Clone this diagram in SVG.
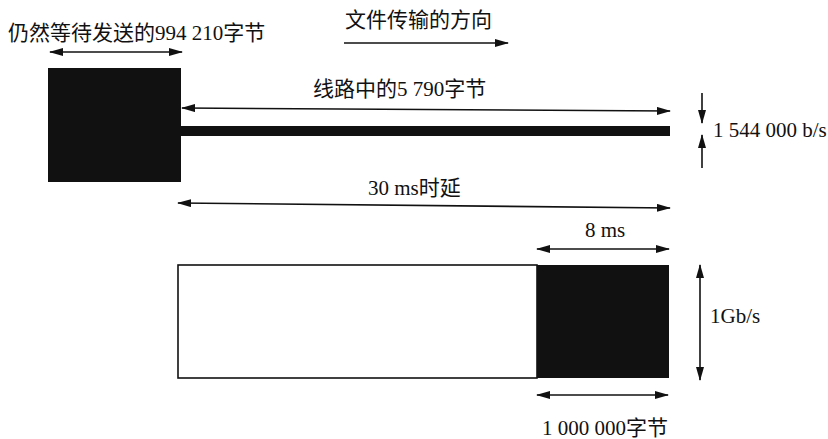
<svg xmlns="http://www.w3.org/2000/svg" width="828" height="439" viewBox="0 0 828 439">
<style>
text{font-family:"Liberation Serif","Noto Sans CJK SC",serif;font-size:21px;fill:#111}
.ln{stroke:#111;stroke-width:1.6;fill:none}
.blk{fill:#111}
</style>
<defs>
<marker id="ah" viewBox="0 0 14 8" refX="13" refY="4" markerUnits="userSpaceOnUse" markerWidth="14" markerHeight="8" orient="auto-start-reverse">
<path d="M0,0 L14,4 L0,8 Z" fill="#111"/>
</marker>
</defs>
<rect width="828" height="439" fill="#fff"/>
<g id="waiting">
<rect class="blk" x="48" y="68" width="133" height="114"/>
<text x="8" y="40">仍然等待发送的994 210字节</text>
</g>
<g id="direction">
<text x="345" y="27">文件传输的方向</text>
</g>
<g id="line">
<rect class="blk" x="181" y="126" width="489" height="10"/>
<text x="313" y="96">线路中的5 790字节</text>
<text x="713" y="137">1 544 000 b/s</text>
</g>
<g id="delay">
<text x="368" y="195">30 ms时延</text>
<text x="585" y="237">8 ms</text>
</g>
<g id="gigabit">
<rect x="178" y="265" width="359" height="113" fill="#fff" stroke="#111" stroke-width="1.6"/>
<rect class="blk" x="537" y="265" width="132" height="113"/>
<text x="710" y="323">1Gb/s</text>
<text x="542" y="435">1 000 000字节</text>
</g>
<g id="connectors">
<line class="ln" x1="50" y1="52" x2="182" y2="52" marker-start="url(#ah)" marker-end="url(#ah)"/>
<line class="ln" x1="344" y1="43" x2="508" y2="43" marker-end="url(#ah)"/>
<line class="ln" x1="182" y1="108" x2="670" y2="111" marker-start="url(#ah)" marker-end="url(#ah)"/>
<line class="ln" x1="702" y1="93" x2="702" y2="123" marker-end="url(#ah)"/>
<line class="ln" x1="702" y1="168" x2="702" y2="135" marker-end="url(#ah)"/>
<line class="ln" x1="178" y1="203" x2="670" y2="208" marker-start="url(#ah)" marker-end="url(#ah)"/>
<line class="ln" x1="537" y1="249" x2="669" y2="249" marker-start="url(#ah)" marker-end="url(#ah)"/>
<line class="ln" x1="700" y1="265" x2="700" y2="380" marker-start="url(#ah)" marker-end="url(#ah)"/>
<line class="ln" x1="537" y1="395" x2="668" y2="395" marker-start="url(#ah)" marker-end="url(#ah)"/>
</g>
</svg>
